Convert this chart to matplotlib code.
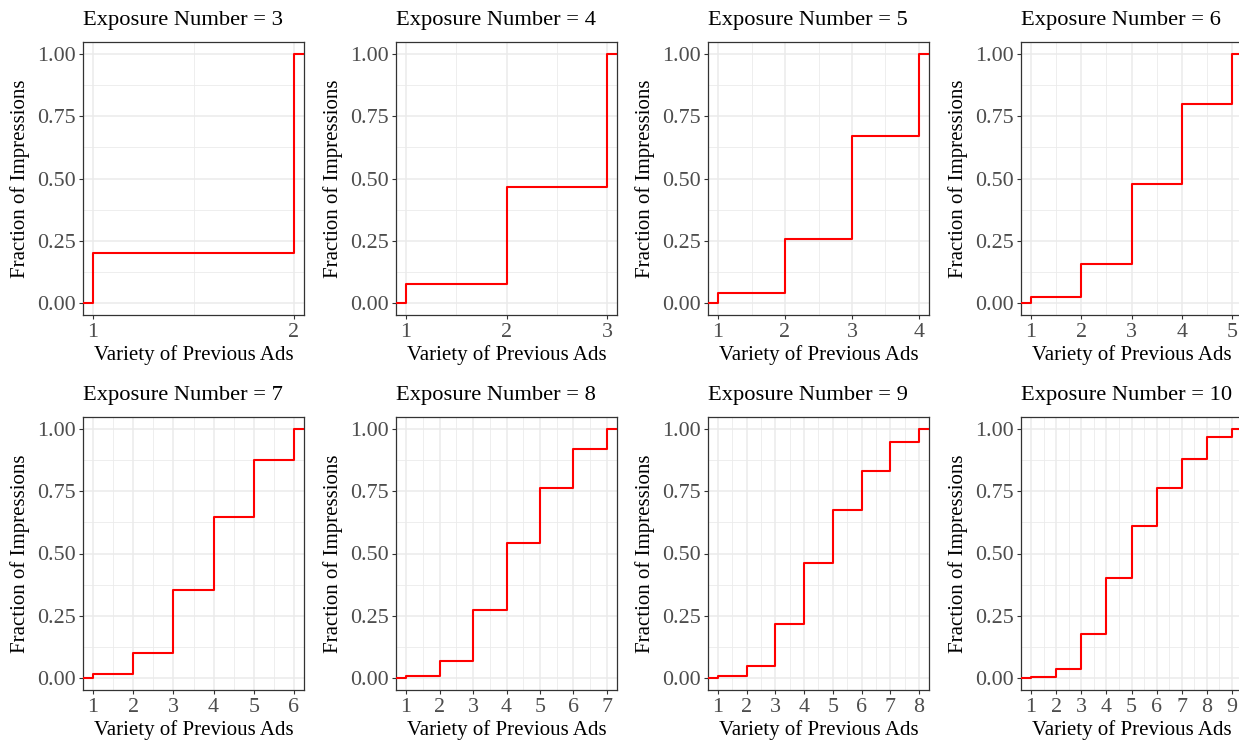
import numpy as np
import matplotlib
matplotlib.use("Agg")
import matplotlib.pyplot as plt
from matplotlib.ticker import MultipleLocator, FixedLocator, FormatStrFormatter

plt.rcParams['font.family'] = ['Liberation Serif', 'DejaVu Serif']

exposures = [3, 4, 5, 6, 7, 8, 9, 10]

# ECDF heights at variety = 1, 2, ..., exposure-1
ecdf_3 = [0.20, 1.00]
ecdf_4 = [0.075, 0.464, 1.00]
ecdf_5 = [0.037, 0.256, 0.673, 1.00]
ecdf_6 = [0.021, 0.156, 0.476, 0.801, 1.00]
ecdf_7 = [0.015, 0.100, 0.353, 0.648, 0.876, 1.00]
ecdf_8 = [0.007, 0.068, 0.273, 0.541, 0.762, 0.921, 1.00]
ecdf_9 = [0.005, 0.048, 0.215, 0.463, 0.674, 0.833, 0.950, 1.00]
ecdf_10 = [0.004, 0.035, 0.174, 0.402, 0.610, 0.762, 0.882, 0.968, 1.00]
all_ecdf = [ecdf_3, ecdf_4, ecdf_5, ecdf_6, ecdf_7, ecdf_8, ecdf_9, ecdf_10]

W, H = 1239, 741
fig = plt.figure(figsize=(W / 100, H / 100), dpi=100)

col_left = [83, 396, 708, 1021]
row_top = [42, 417]
pw, ph = 221, 273

grid_col = '#ebebeb'
for i, (expo, vals) in enumerate(zip(exposures, all_ecdf)):
    r, c = divmod(i, 4)
    ax = fig.add_axes([col_left[c] / W, (H - row_top[r] - ph) / H, pw / W, ph / H])
    xs = np.arange(1, len(vals) + 1)
    lo, hi = xs[0], xs[-1]
    pad = 0.05 * (hi - lo)
    # pad with points beyond the range (like stat_ecdf pad = TRUE)
    xx = np.concatenate([[lo - 10], xs, [hi + 10]])
    yy = np.concatenate([[0], vals, [1]])
    ax.step(xx, yy, where='post', color='red', lw=1.5, zorder=3)
    ax.set_xlim(lo - pad, hi + pad)
    ax.set_ylim(-0.05, 1.05)

    ax.xaxis.set_major_locator(FixedLocator(xs))
    ax.xaxis.set_minor_locator(FixedLocator(xs[:-1] + 0.5))
    ax.yaxis.set_major_locator(MultipleLocator(0.25))
    ax.yaxis.set_minor_locator(FixedLocator([0.125, 0.375, 0.625, 0.875]))
    ax.yaxis.set_major_formatter(FormatStrFormatter('%.2f'))

    ax.grid(which='major', color=grid_col, lw=1.1, zorder=0)
    ax.grid(which='minor', color=grid_col, lw=0.6, zorder=0)
    ax.set_axisbelow(True)
    ax.tick_params(which='major', length=3.0, width=0.8, color='#333333',
                   labelcolor='#4d4d4d', labelsize=15.8)
    ax.tick_params(axis='x', which='major', pad=3)
    ax.tick_params(axis='y', which='major', pad=2)
    ax.tick_params(which='minor', length=0)
    for s in ax.spines.values():
        s.set_color('#333333')
        s.set_linewidth(0.9)

    ax.set_title(f'Exposure Number = {expo}', fontsize=16.2, pad=12, loc='left')
    ax.set_xlabel('Variety of Previous Ads', fontsize=15.0, labelpad=2)
    ax.set_ylabel('Fraction of Impressions', fontsize=15.0, labelpad=5)

fig.savefig('out.png', dpi=100, facecolor='white')
